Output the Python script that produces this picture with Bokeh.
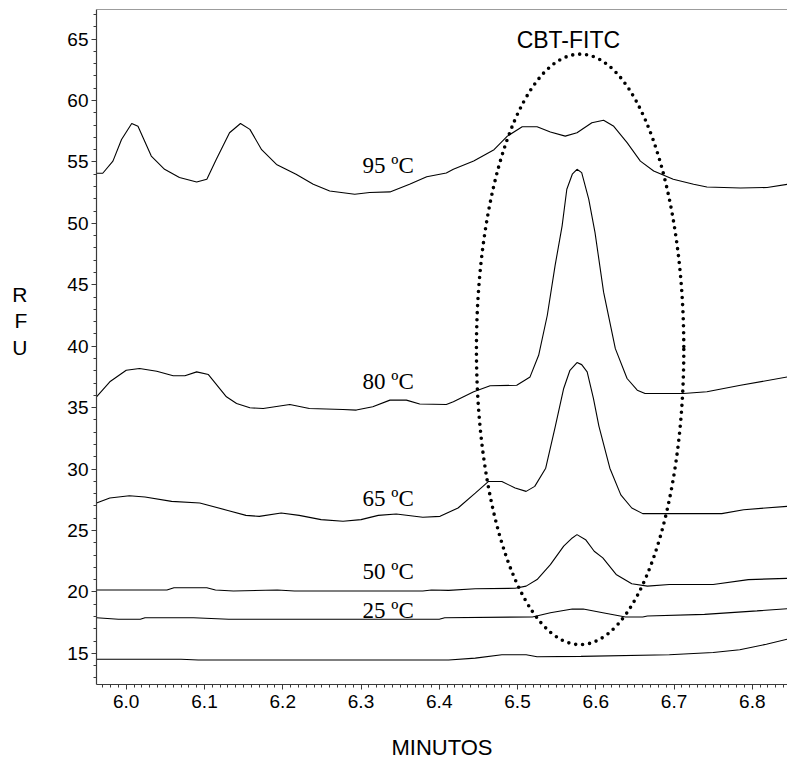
from bokeh.plotting import figure
from bokeh.models import Range1d, SingleIntervalTicker, PrintfTickFormatter, Span
from bokeh.core.properties import value
from bokeh.embed import file_html
from bokeh.resources import INLINE

# ---- data (minutes, RFU) ----
t95 = [5.962, 5.970, 5.983, 5.994, 6.007, 6.015, 6.032, 6.049, 6.068, 6.090, 6.103, 6.115, 6.132, 6.146,
       6.158, 6.173, 6.192, 6.217, 6.239, 6.260, 6.292, 6.311, 6.337, 6.362, 6.384, 6.409, 6.418, 6.444,
       6.470, 6.487, 6.506, 6.525, 6.542, 6.561, 6.576, 6.595, 6.610, 6.623, 6.640, 6.657, 6.674, 6.699,
       6.725, 6.742, 6.785, 6.819, 6.845]
rfu95 = [54.08, 54.08, 55.07, 56.83, 58.13, 57.9, 55.48, 54.4, 53.73, 53.37, 53.59, 55.2, 57.38, 58.13,
         57.65, 56.0, 54.8, 54.0, 53.18, 52.64, 52.37, 52.51, 52.56, 53.18, 53.8, 54.1, 54.4, 55.07,
         56.0, 57.1, 57.86, 57.86, 57.43, 57.1, 57.38, 58.19, 58.4, 57.9, 56.57, 55.07, 54.26, 53.59,
         53.18, 52.96, 52.88, 52.92, 53.18]

t80 = [5.962, 5.979, 6.0, 6.017, 6.039, 6.06, 6.075, 6.09, 6.105, 6.128, 6.141, 6.158, 6.175, 6.209,
       6.234, 6.277, 6.294, 6.315, 6.337, 6.358, 6.375, 6.409, 6.418, 6.444, 6.465, 6.499, 6.516, 6.527,
       6.538, 6.548, 6.557, 6.563, 6.57, 6.576, 6.582, 6.591, 6.599, 6.61, 6.625, 6.64, 6.653, 6.663,
       6.712, 6.742, 6.785, 6.845]
rfu80 = [35.88, 37.1, 38.04, 38.18, 37.96, 37.59, 37.59, 37.91, 37.69, 35.88, 35.34, 34.99, 34.93, 35.26,
         34.93, 34.85, 34.8, 35.07, 35.61, 35.61, 35.29, 35.26, 35.48, 36.29, 36.78, 36.82, 37.5, 39.26,
         42.5, 46.56, 49.8, 52.78, 54.0, 54.4, 54.13, 51.97, 49.27, 44.4, 39.8, 37.37, 36.42, 36.15,
         36.15, 36.29, 36.82, 37.5]

t65 = [5.962, 5.979, 6.004, 6.024, 6.058, 6.094, 6.131, 6.153, 6.17, 6.198, 6.221, 6.249, 6.277, 6.3,
       6.322, 6.345, 6.379, 6.401, 6.424, 6.446, 6.463, 6.48, 6.497, 6.511, 6.522, 6.536, 6.548, 6.559,
       6.567, 6.576, 6.582, 6.589, 6.597, 6.604, 6.618, 6.632, 6.646, 6.66, 6.694, 6.761, 6.789, 6.845]
rfu65 = [27.23, 27.64, 27.82, 27.72, 27.37, 27.23, 26.61, 26.23, 26.15, 26.42, 26.23, 25.88, 25.75, 25.88,
         26.23, 26.34, 26.07, 26.15, 26.83, 28.04, 28.99, 28.99, 28.45, 28.18, 28.59, 30.07, 33.4, 36.56,
         38.04, 38.67, 38.5, 37.91, 35.75, 33.5, 30.07, 27.9, 26.83, 26.37, 26.37, 26.37, 26.69, 26.96]

t50 = [5.962, 6.052, 6.061, 6.103, 6.114, 6.137, 6.193, 6.215, 6.379, 6.39, 6.412, 6.446, 6.497, 6.511,
       6.525, 6.542, 6.559, 6.57, 6.576, 6.587, 6.598, 6.609, 6.626, 6.646, 6.666, 6.694, 6.75, 6.795, 6.845]
rfu50 = [20.15, 20.15, 20.34, 20.34, 20.15, 20.07, 20.15, 20.07, 20.07, 20.15, 20.12, 20.26, 20.29, 20.47,
         21.0, 22.22, 23.72, 24.39, 24.66, 24.25, 23.31, 22.77, 21.42, 20.66, 20.47, 20.6, 20.6, 21.0, 21.1]

t25 = [5.962, 5.99, 6.018, 6.024, 6.086, 6.131, 6.40, 6.407, 6.519, 6.542, 6.57, 6.584, 6.609, 6.638,
       6.66, 6.666, 6.739, 6.806, 6.845]
rfu25 = [17.9, 17.77, 17.77, 17.9, 17.9, 17.77, 17.77, 17.9, 17.96, 18.3, 18.6, 18.6, 18.3, 17.96,
         17.96, 18.04, 18.17, 18.45, 18.63]

t_base = [5.962, 6.07, 6.092, 6.412, 6.446, 6.48, 6.511, 6.525, 6.581, 6.694, 6.75, 6.784, 6.818, 6.845]
rfu_base = [14.52, 14.52, 14.45, 14.45, 14.61, 14.88, 14.88, 14.72, 14.75, 14.88, 15.07, 15.29, 15.74, 16.15]

curve_labels = ["95 ºC", "80 ºC", "65 ºC", "50 ºC", "25 ºC"]
label_x = [6.302, 6.302, 6.302, 6.302, 6.302]
label_y = [54.67, 37.1, 27.58, 21.69, 18.5]

# dotted ellipse marking the CBT-FITC peak (center, width, height in data units)
ell_x, ell_y, ell_w, ell_h = 6.58, 39.74, 0.265, 48.1

X_RANGE = (5.962, 6.845)
Y_RANGE = (12.46, 67.41)

AX = "#3a3a3a"
SANS = "Liberation Sans"
SERIF = "Liberation Serif"

p = figure(width=787, height=762, output_backend="svg", toolbar_location=None,
           x_range=Range1d(*X_RANGE), y_range=Range1d(*Y_RANGE),
           min_border_left=96, min_border_right=0, min_border_top=9, min_border_bottom=75)
p.outline_line_color = None
p.grid.visible = False
p.background_fill_color = "white"
p.border_fill_color = "white"

for xs, ys in [(t95, rfu95), (t80, rfu80), (t65, rfu65), (t50, rfu50), (t25, rfu25), (t_base, rfu_base)]:
    p.line(xs, ys, line_color="black", line_width=1.1)

p.ellipse(x=[ell_x], y=[ell_y], width=[ell_w], height=[ell_h], fill_color=None,
          line_color="black", line_width=3.6, line_dash="0 7", line_cap="round")

p.text(x=label_x, y=label_y, text=curve_labels, text_font=value(SERIF), text_font_size="23px",
       text_align="left", text_baseline="alphabetic", text_color="black")
p.text(x=[6.565], y=[64.94], text=["CBT-FITC"], text_font=value(SANS), text_font_size="23px",
       text_align="center", text_baseline="alphabetic", text_color="black")

# top border
p.add_layout(Span(location=Y_RANGE[1], dimension="width", line_color=AX, line_width=1.2))

# axes
xa = p.xaxis[0]
xa.ticker = SingleIntervalTicker(interval=0.1, num_minor_ticks=10)
xa.formatter = PrintfTickFormatter(format="%.1f")
ya = p.yaxis[0]
ya.ticker = SingleIntervalTicker(interval=5, num_minor_ticks=5)
for ax in (xa, ya):
    ax.axis_line_color = AX
    ax.axis_line_width = 1.2
    ax.major_tick_line_color = AX
    ax.minor_tick_line_color = AX
    ax.major_tick_in = 0
    ax.major_tick_out = 5
    ax.minor_tick_in = 0
    ax.minor_tick_out = 3
    ax.major_label_text_font = SANS
    ax.major_label_text_font_size = "19px"
    ax.major_label_text_color = "black"
xa.major_label_standoff = 5
ya.major_label_standoff = 3

xa.axis_label = "MINUTOS"
xa.axis_label_text_font = SANS
xa.axis_label_text_font_size = "22px"
xa.axis_label_text_font_style = "normal"
xa.axis_label_text_color = "black"
xa.axis_label_standoff = 24

# stacked y-axis title
ya.axis_label = "R\nF\nU\n \n"
ya.axis_label_orientation = "horizontal"
ya.axis_label_text_font = SANS
ya.axis_label_text_font_size = "21px"
ya.axis_label_text_font_style = "normal"
ya.axis_label_text_color = "black"
ya.axis_label_text_line_height = 1.15
ya.axis_label_standoff = 37

open("out.html", "w").write(file_html(p, INLINE))
